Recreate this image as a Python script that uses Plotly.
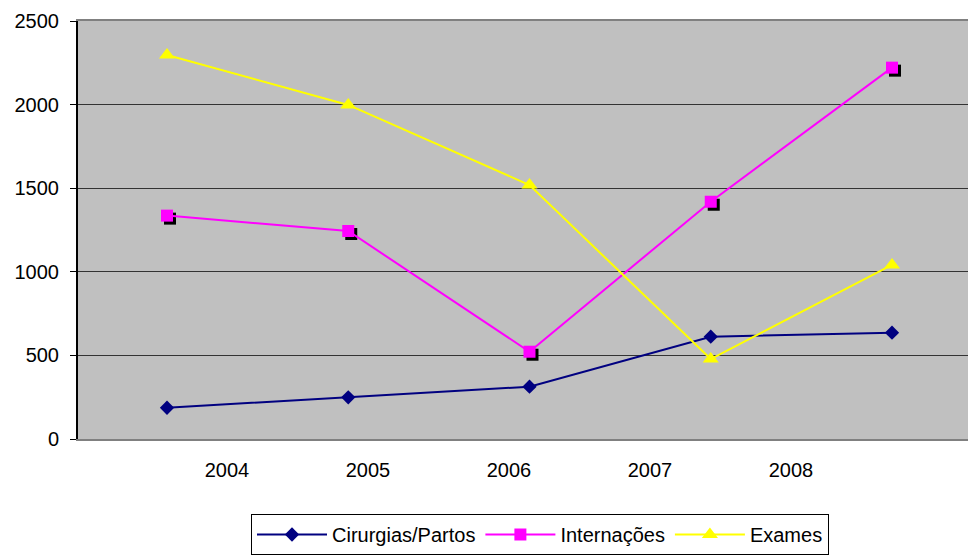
import plotly.graph_objects as go

years = ["2004", "2005", "2006", "2007", "2008"]
cirurgias = [187, 249, 313, 612, 636]
internacoes = [1336, 1244, 522, 1419, 2221]
exames = [2297, 1998, 1519, 478, 1041]

idx = list(range(len(years)))

FONT = "Liberation Sans, Arial, sans-serif"
W, H = 968, 555
ML, MR, MT, MB = 78, 0, 21, 116
plot_w = W - ML - MR
plot_h = H - MT - MB

px_per_cat = 181.25
x0 = -(167 - ML) / px_per_cat
x_range = [x0, x0 + plot_w / px_per_cat]
y_range = [0, 2500]
units_per_px = 2500 / plot_h

sh = 3
xs_range = [x_range[0] - sh / px_per_cat, x_range[1] - sh / px_per_cat]
ys_range = [y_range[0] + sh * units_per_px, y_range[1] + sh * units_per_px]

lab_px = 141
l0 = -(227 - ML) / lab_px
xl_range = [l0, l0 + plot_w / lab_px]

fig = go.Figure()

fig.add_trace(go.Scatter(
    x=idx, y=internacoes, xaxis="x", yaxis="y", mode="markers",
    marker=dict(symbol="square", size=12, color="black"),
    showlegend=False, hoverinfo="skip"))

fig.add_trace(go.Scatter(
    x=idx, y=cirurgias, name="Cirurgias/Partos", xaxis="x2", yaxis="y2",
    mode="lines+markers", line=dict(color="#000080", width=2),
    marker=dict(symbol="diamond", size=11, color="#000080")))
fig.add_trace(go.Scatter(
    x=idx, y=internacoes, name="Internações", xaxis="x2", yaxis="y2",
    mode="lines+markers", line=dict(color="#FF00FF", width=2),
    marker=dict(symbol="square", size=12, color="#FF00FF")))
fig.add_trace(go.Scatter(
    x=idx, y=exames, name="Exames", xaxis="x2", yaxis="y2",
    mode="lines+markers", line=dict(color="#FFFF00", width=2),
    marker=dict(symbol="triangle-up", size=14, color="#FFFF00")))

fig.add_trace(go.Scatter(
    x=idx, y=cirurgias, xaxis="x3", yaxis="y2", mode="markers",
    marker=dict(opacity=0), showlegend=False, hoverinfo="skip"))

fig.update_layout(
    width=W, height=H,
    margin=dict(l=ML, r=MR, t=MT, b=MB, autoexpand=False),
    paper_bgcolor="white",
    plot_bgcolor="#C0C0C0",
    font=dict(family=FONT, size=20, color="black"),
    xaxis=dict(range=xs_range, visible=False, fixedrange=True),
    yaxis=dict(range=ys_range, visible=False, fixedrange=True),
    xaxis2=dict(range=x_range, overlaying="x", anchor="y2",
                showticklabels=False, ticks="", showgrid=False,
                zeroline=False, showline=True, linecolor="#808080",
                linewidth=2, mirror=True),
    yaxis2=dict(range=y_range, overlaying="y", anchor="x2", side="left",
                dtick=500, tick0=0, showgrid=True, gridcolor="#333333",
                gridwidth=1, zeroline=False, showline=True,
                linecolor="black", linewidth=2, ticks="outside",
                ticklen=6, tickcolor="black", tickwidth=1,
                ticklabelstandoff=7,
                tickfont=dict(family=FONT, size=20, color="black")),
    xaxis3=dict(range=xl_range, overlaying="x", anchor="y2",
                tickmode="array", tickvals=idx, ticktext=years,
                ticks="", showgrid=False, zeroline=False, showline=False,
                ticklabelstandoff=17,
                tickfont=dict(family=FONT, size=20, color="black")),
    legend=dict(orientation="h", x=(540 - ML) / plot_w, xanchor="center",
                y=-(555 - 439) / plot_h,
                yanchor="bottom", bordercolor="black", borderwidth=1,
                bgcolor="white", font=dict(family=FONT, size=20),
                itemwidth=70, tracegroupgap=0),
    showlegend=True,
)

fig.write_html(
    "out.html",
    config={"displayModeBar": False},
    post_script="document.body.style.margin='0';document.body.style.overflow='hidden';",
)
